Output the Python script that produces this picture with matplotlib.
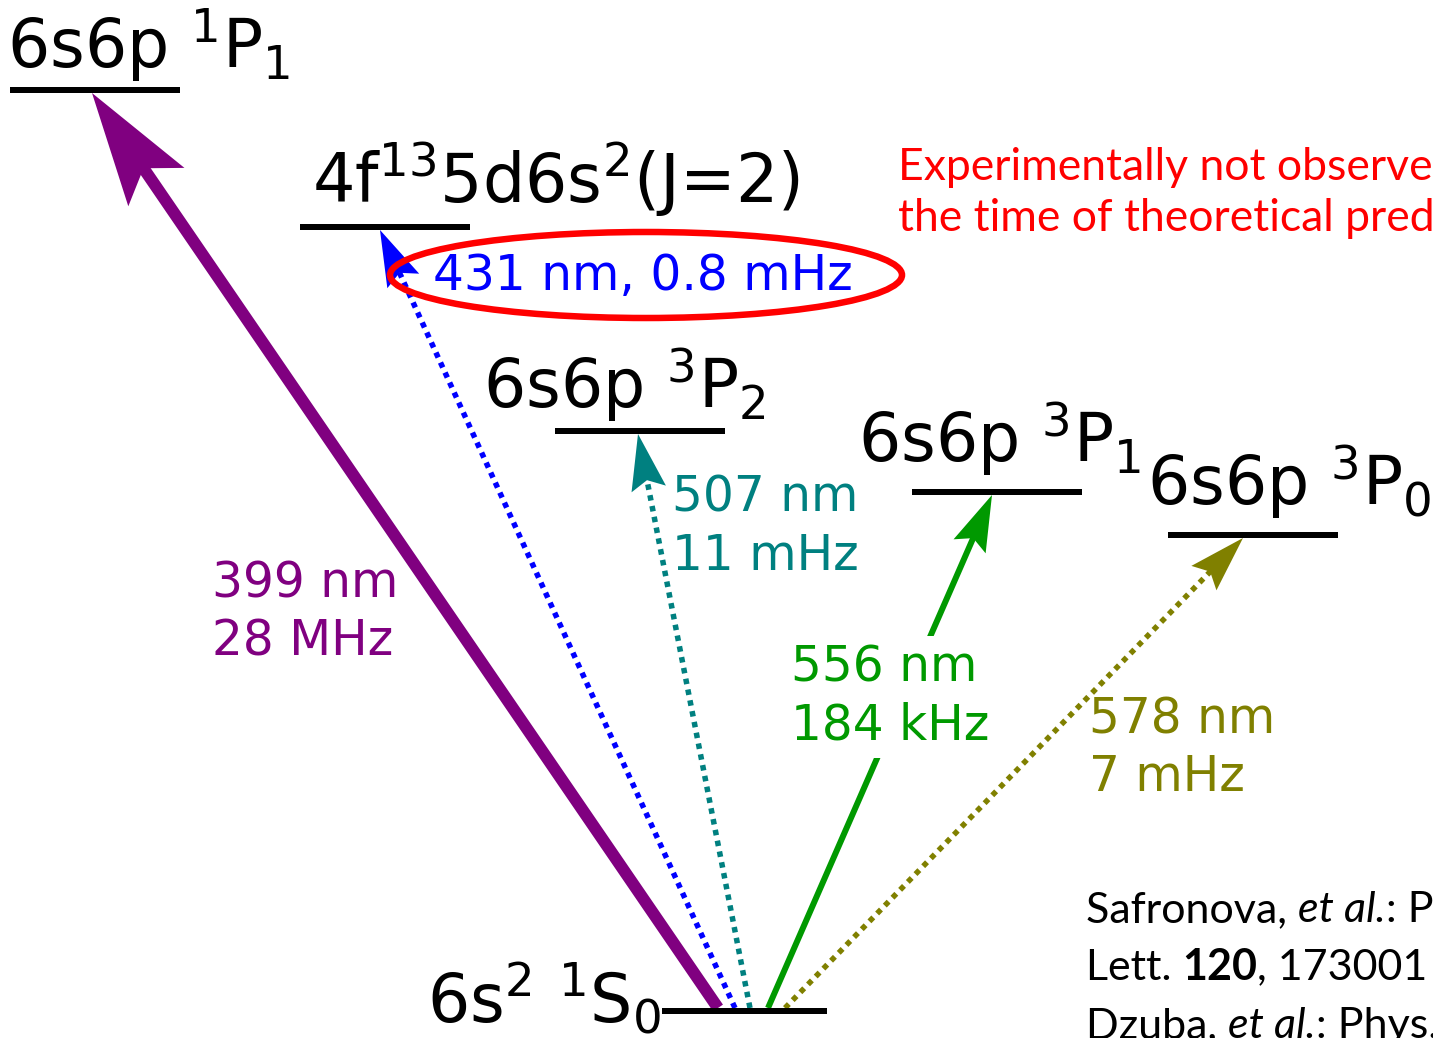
import matplotlib
matplotlib.use("Agg")
import matplotlib.pyplot as plt
from matplotlib.patches import Polygon, Ellipse
import numpy as np

# energy levels (drawn heights, not to scale)
level_names = [r"6s6p $^1$P$_1$", r"4f$^{13}$5d6s$^2$(J=2)", r"6s6p $^3$P$_2$",
               r"6s6p $^3$P$_1$", r"6s6p $^3$P$_0$", r"6s$^2$ $^1$S$_0$"]
level_y = [90, 227, 431, 492, 535, 1011]
level_x = [10, 300, 555, 912, 1168, 662]
level_w = [170, 170, 170, 170, 170, 165]
label_xy = [(7, 68), (312, 203), (483, 408), (858, 462), (1147, 505), (427, 1022)]

# transitions from ground state
wavelength = ["399 nm", "431 nm", "507 nm", "556 nm", "578 nm"]
rate = ["28 MHz", "0.8 mHz", "11 mHz", "184 kHz", "7 mHz"]
upper = [0, 1, 2, 3, 4]
colors = ["#800080", "#0000ff", "#008080", "#009900", "#808000"]
dotted = [False, True, True, False, True]
start_x = [718, 735, 750, 768, 785]
end_x = [92, 380, 638, 992, 1243]
lw_px = [12, 5.5, 5.5, 6, 5.5]
txt_xy = [(212, 598), (433, 290), (672, 512), (791, 682), (1089, 733)]

note = ["Experimentally not observed at", "the time of theoretical prediction"]
refs = [[("Safronova, ", 'normal', 'normal'), ("et al.", 'italic', 'normal'), (": Phys. Rev.", 'normal', 'normal')],
        [("Lett. ", 'normal', 'normal'), ("120", 'normal', 'bold'), (", 173001 (2018)", 'normal', 'normal')],
        [("Dzuba, ", 'normal', 'normal'), ("et al.", 'italic', 'normal'), (": Phys. Rev. A", 'normal', 'normal')]]

PX = 72 / 100.  # points per pixel


def arrow(ax, x0, y0, x1, y1, color, lw, ls, L, W, notch):
    tip = np.array([x1, y1], float)
    tail = np.array([x0, y0], float)
    d = (tip - tail) / np.hypot(*(tip - tail))
    n = np.array([-d[1], d[0]])
    base = tip - d * L
    pn = tip - d * L * notch
    ax.plot([tail[0], pn[0] + d[0] * 2], [tail[1], pn[1] + d[1] * 2], color=color,
            lw=lw * PX, ls=ls, solid_capstyle='butt', dash_capstyle='butt', zorder=2)
    ax.add_patch(Polygon([tip, base + n * W / 2, pn, base - n * W / 2],
                         closed=True, fc=color, ec='none', zorder=2))


fig = plt.figure(figsize=(14.33, 10.38), dpi=100)
ax = fig.add_axes([0, 0, 1, 1])
ax.set_xlim(0, 1433)
ax.set_ylim(1038, 0)
ax.axis('off')

for i in range(len(level_names)):
    ax.plot([level_x[i], level_x[i] + level_w[i]], [level_y[i], level_y[i]],
            color='black', lw=6 * PX, solid_capstyle='butt', zorder=3)
    ax.text(label_xy[i][0], label_xy[i][1], level_names[i], fontsize=48,
            family='DejaVu Sans', math_fontfamily='dejavusans', va='baseline')

for i in range(len(wavelength)):
    ls = (0, (1, 1)) if dotted[i] else '-'
    if i == 0:
        L, W, notch = 114, 68, 0.8
    else:
        L, W, notch = 56, 35, 0.84
    arrow(ax, start_x[i], 1008, end_x[i], level_y[upper[i]] + 3, colors[i],
          lw_px[i], ls, L, W, notch)
    tx, ty = txt_xy[i]
    if i == 1:
        ax.text(tx, ty, wavelength[i] + ", " + rate[i], color=colors[i], fontsize=35,
                family='DejaVu Sans', va='baseline', zorder=4)
    else:
        box = dict(fc='white', ec='none', pad=6) if i == 3 else None
        ax.text(tx, ty, wavelength[i], color=colors[i], fontsize=35,
                family='DejaVu Sans', va='baseline', zorder=4, bbox=box)
        ax.text(tx, ty + 58, rate[i], color=colors[i], fontsize=35,
                family='DejaVu Sans', va='baseline', zorder=4, bbox=box)

# not observed transition highlighted
ax.add_patch(Ellipse((646, 275), 512, 86, fill=False, ec='#ff0000', lw=6.5 * PX, zorder=5))
for k, s in enumerate(note):
    ax.text(898, 180 + 51 * k, s, color='#ff0000', fontsize=32, family='Lato',
            va='baseline')

# citation lines with italic / bold pieces, placed one after another
r = fig.canvas.get_renderer()


def width(s, **kw):
    a = ax.text(0, 0, s + "x", **kw)
    b = ax.text(0, 0, "x", **kw)
    w = a.get_window_extent(renderer=r).width - b.get_window_extent(renderer=r).width
    a.remove()
    b.remove()
    return w


for k, line in enumerate(refs):
    x = 1086
    for s, st, wt in line:
        kw = dict(fontsize=31, family='Lato', style=st, weight=wt)
        ax.text(x, 922 + 58 * k, s, va='baseline', **kw)
        x += width(s, **kw)

fig.savefig("out.png", dpi=100)
